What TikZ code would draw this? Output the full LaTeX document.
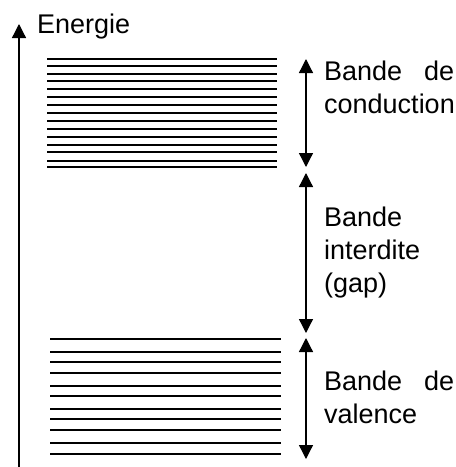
\documentclass[tikz,border=0pt]{standalone}
\usepackage{fontspec}
\setmainfont{Liberation Sans}
\usetikzlibrary{arrows.meta}
\tikzset{niveau/.style={line width=1.6pt},
  fleche/.style={line width=1.3pt, {Triangle[width=14pt,length=14pt]}-{Triangle[width=14pt,length=14pt]}},
  legende/.style={anchor=base west, inner sep=0pt, font=\fontsize{27}{33}\selectfont, text width=132pt, align=left}}

\begin{document}
\begin{tikzpicture}[x=1pt,y=-1pt]
    \useasboundingbox (0,0) rectangle (456,467);

    % axe des energies
    \coordinate (E0) at (19,467);
    \coordinate (E1) at (19,24);
    \draw[line width=1.3pt, -{Triangle[width=14pt,length=14pt]}] (E0) -- (E1);
    \node[anchor=base west, inner sep=0pt, font=\fontsize{27}{30}\selectfont] (energie) at (37,33) {Energie};

    % niveaux
    \foreach \y in {59,66,74,81,89,97,105,113,121,129,137,145,152,161,167}
        \draw[niveau] (47,\y) -- (277,\y);
    \foreach \y in {339,352,362,373,386,396,409,419,430,443,454}
        \draw[niveau] (50,\y) -- (281,\y);

    % fleches
    \coordinate (BC1) at (306,59);
    \coordinate (BC2) at (306,167);
    \coordinate (BI1) at (306,173);
    \coordinate (BI2) at (306,333);
    \coordinate (BV1) at (306,338);
    \coordinate (BV2) at (306,459);
    \draw[fleche] (BC1) -- (BC2);
    \draw[fleche] (BI1) -- (BI2);
    \draw[fleche] (BV1) -- (BV2);

    \node[legende] (conduction) at (324,80) {\makebox[130pt]{Bande\hfill de}\\conduction};
    \node[legende] (interdite) at (324,226) {Bande\\interdite\\(gap)};
    \node[legende] (valence) at (324,390) {\makebox[130pt]{Bande\hfill de}\\valence};
\end{tikzpicture}
\end{document}
